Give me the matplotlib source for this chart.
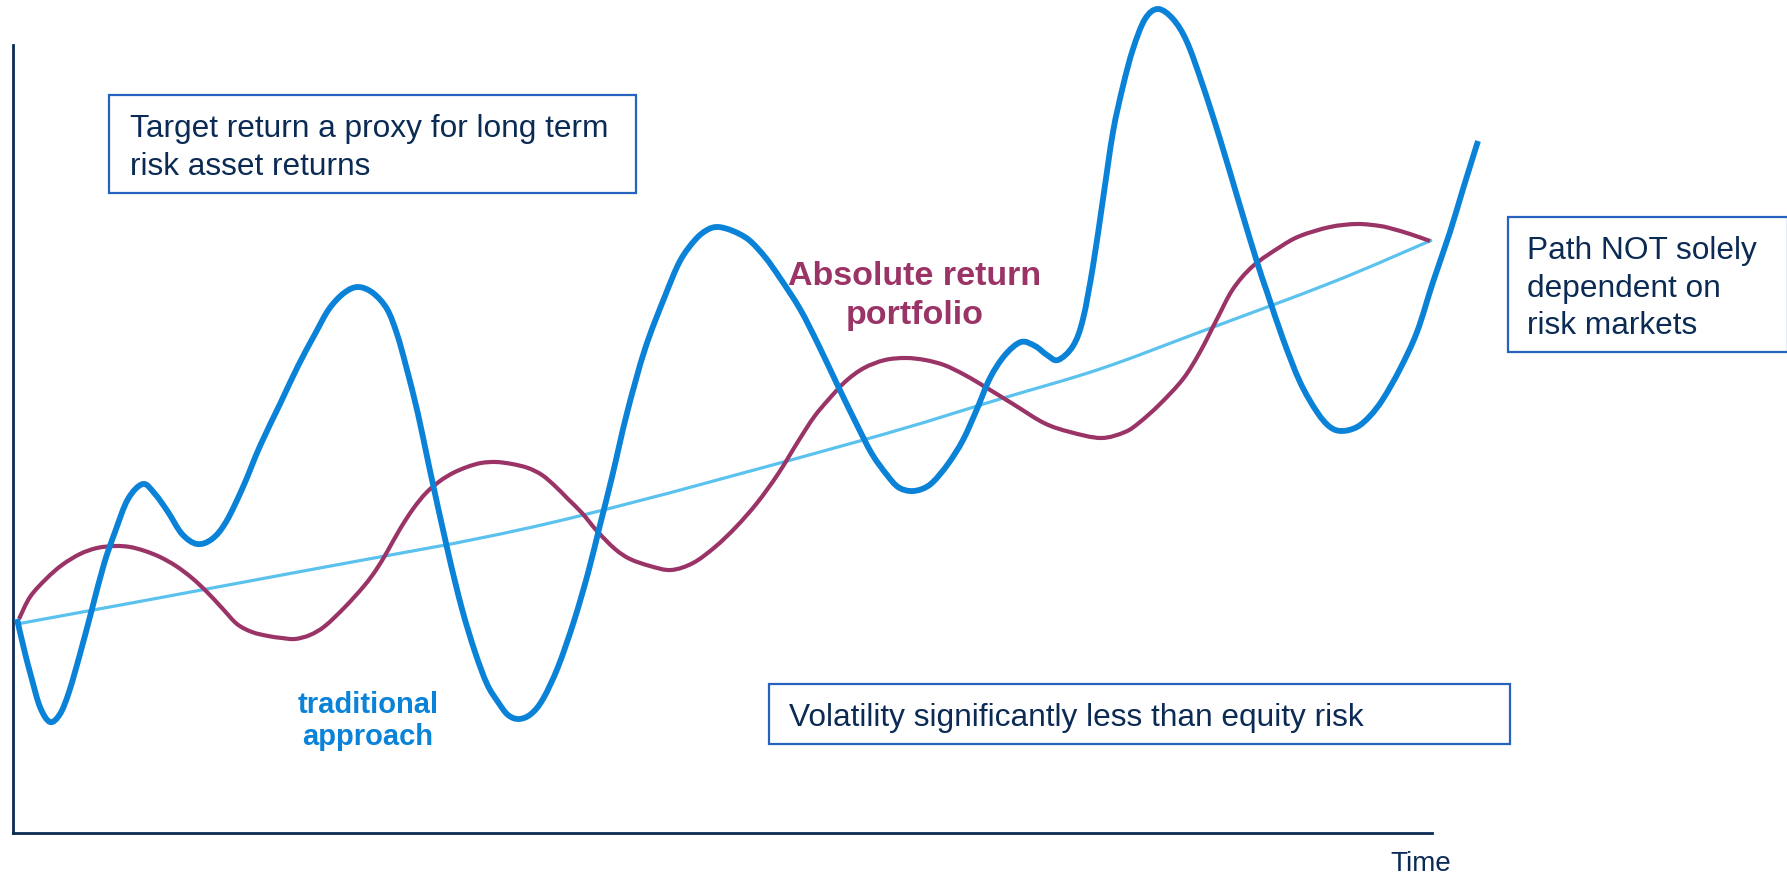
import matplotlib
matplotlib.use("Agg")
import matplotlib.pyplot as plt
import numpy as np
from matplotlib.patches import Rectangle, PathPatch
from matplotlib.path import Path

plt.rcParams["font.family"] = ["Liberation Sans", "DejaVu Sans"]

# time / value (arbitrary units, origin at the axes corner)
trad_t = [4, 11, 18, 27, 37, 47, 56, 67, 79, 91, 102, 115, 130, 142, 155, 169, 184, 199, 213, 230,
          247, 267, 285, 302, 316, 331, 345, 360, 374, 384, 393, 405, 416, 435, 449, 462, 474, 485, 495, 506,
          518, 530, 545, 561, 575, 587, 599, 614, 632, 652, 667, 682, 694, 705, 720, 736, 752, 767, 787, 805,
          824, 843, 859, 874, 885, 897, 909, 920, 935, 950, 964, 977, 992, 1008, 1022, 1034, 1045, 1060, 1070, 1080,
          1090, 1100, 1110, 1120, 1132, 1145, 1160, 1174, 1190, 1207, 1227, 1244, 1254, 1270, 1287, 1304,
          1317, 1329, 1344, 1357, 1370, 1387, 1404, 1420, 1437, 1450, 1465]
trad_v = [214, 184, 157, 126, 111, 119, 141, 179, 224, 269, 301, 334, 349, 339, 321, 299, 289, 294, 311, 346,
          387, 429, 467, 499, 524, 540, 546, 540, 524, 499, 467, 419, 367, 281, 224, 181, 149, 131, 118, 114,
          119, 134, 166, 212, 260, 308, 356, 420, 484, 537, 572, 593, 603, 606, 602, 593, 576, 555, 524, 489,
          449, 410, 379, 358, 346, 342, 344, 351, 369, 393, 424, 455, 478, 491, 487, 478, 473, 487, 514, 567,
          634, 701, 747, 784, 814, 824, 814, 791, 747, 694, 627, 571, 541, 494, 451, 421,
          406, 402, 406, 417, 434, 464, 501, 551, 601, 644, 692]

abs_t = [6, 17, 33, 49, 67, 84, 102, 117, 132, 147, 163, 179, 194, 209, 224, 239, 255, 269, 282, 297,
         312, 332, 351, 363, 374, 387, 400, 413, 427, 440, 454, 468, 483, 499, 515, 529, 542, 555, 569, 584,
         602, 617, 637, 658, 680, 702, 723, 744, 765, 786, 801, 816, 833, 851, 872, 893, 912, 931, 950, 969,
         1000, 1031, 1057, 1088, 1112, 1127, 1147, 1170, 1187, 1204, 1220, 1240, 1267, 1287, 1317, 1344, 1367, 1380, 1397,
         1417]
abs_v = [214, 236, 254, 268, 279, 285, 287, 286, 282, 276, 267, 255, 241, 225, 209, 201, 197, 195, 194, 198,
         207, 226, 247, 263, 281, 304, 324, 340, 352, 360, 366, 370, 371, 369, 365, 358, 347, 334, 320, 302,
         284, 274, 267, 263, 270, 286, 306, 330, 359, 393, 416, 434, 452, 465, 473, 475, 473, 468, 459, 448,
         429, 410, 401, 395, 401, 411, 429, 454, 481, 514, 544, 567, 586, 597, 606, 609, 607, 604, 599,
         592]

target_t = [4, 285, 537, 843, 987, 1087, 1187, 1320, 1419]
target_v = [209, 261, 310, 391, 434, 464, 501, 551, 593]

NAVY = "#0B2B54"
BLUE = "#0A82D8"
PURPLE = "#9A3366"
LIGHT = "#5BC2EE"
EDGE = "#2563BE"


def smooth_path(t, v):
    # bezier path through the read points (catmull-rom tangents)
    p = np.column_stack([t, v]).astype(float)
    ext = np.vstack([p[0], p, p[-1]])
    verts = [p[0]]
    for i in range(len(p) - 1):
        p0, p1, p2, p3 = ext[i], ext[i + 1], ext[i + 2], ext[i + 3]
        verts += [p1 + (p2 - p0) / 6, p2 - (p3 - p1) / 6, p2]
    codes = [Path.MOVETO] + [Path.CURVE4] * (len(verts) - 1)
    return Path(verts, codes)


fig = plt.figure(figsize=(17.87, 8.78), dpi=100)
ax = fig.add_axes([0, 0, 1, 1])
ax.set_xlim(-13, 1774)
ax.set_ylim(-44, 834)

for s in ["top", "right"]:
    ax.spines[s].set_visible(False)
ax.spines["left"].set_position(("data", 0))
ax.spines["bottom"].set_position(("data", 0))
ax.spines["left"].set_bounds(0, 788)
ax.spines["bottom"].set_bounds(0, 1419)
for s in ["left", "bottom"]:
    ax.spines[s].set_color(NAVY)
    ax.spines[s].set_linewidth(2)
ax.set_xticks([])
ax.set_yticks([])
ax.patch.set_alpha(0)

ax.add_patch(PathPatch(smooth_path(target_t, target_v), fill=False, ec=LIGHT, lw=2.3, zorder=2))
ax.add_patch(PathPatch(smooth_path(abs_t, abs_v), fill=False, ec=PURPLE, lw=3.0, zorder=3,
                       joinstyle="round", capstyle="butt"))
ax.add_patch(PathPatch(smooth_path(trad_t, trad_v), fill=False, ec=BLUE, lw=4.2, zorder=4,
                       joinstyle="round", capstyle="butt"))

boxes = [
    (96, 640, 527, 98, "Target return a proxy for long term\nrisk asset returns", 117),
    (1495, 481, 280, 135, "Path NOT solely\ndependent on\nrisk markets", 1514),
    (756, 89, 741, 60, "Volatility significantly less than equity risk", 776),
]
for x0, y0, w, h, txt, tx in boxes:
    ax.add_patch(Rectangle((x0, y0), w, h, fill=False, ec=EDGE, lw=1.6, zorder=5))
    ax.text(tx, y0 + h / 2 - 3, txt, fontsize=22.8, color=NAVY, ha="left", va="center",
            linespacing=1.33, zorder=6)

ax.text(902, 538, "Absolute return\nportfolio", fontsize=24.5, fontweight="bold", color=PURPLE,
        ha="center", va="center", linespacing=1.33)
ax.text(355, 113, "traditional\napproach", fontsize=21, fontweight="bold", color=BLUE,
        ha="center", va="center", linespacing=1.22)
ax.text(1408, -30, "Time", fontsize=20, color=NAVY, ha="center", va="center")

fig.savefig("out.png", dpi=100)
